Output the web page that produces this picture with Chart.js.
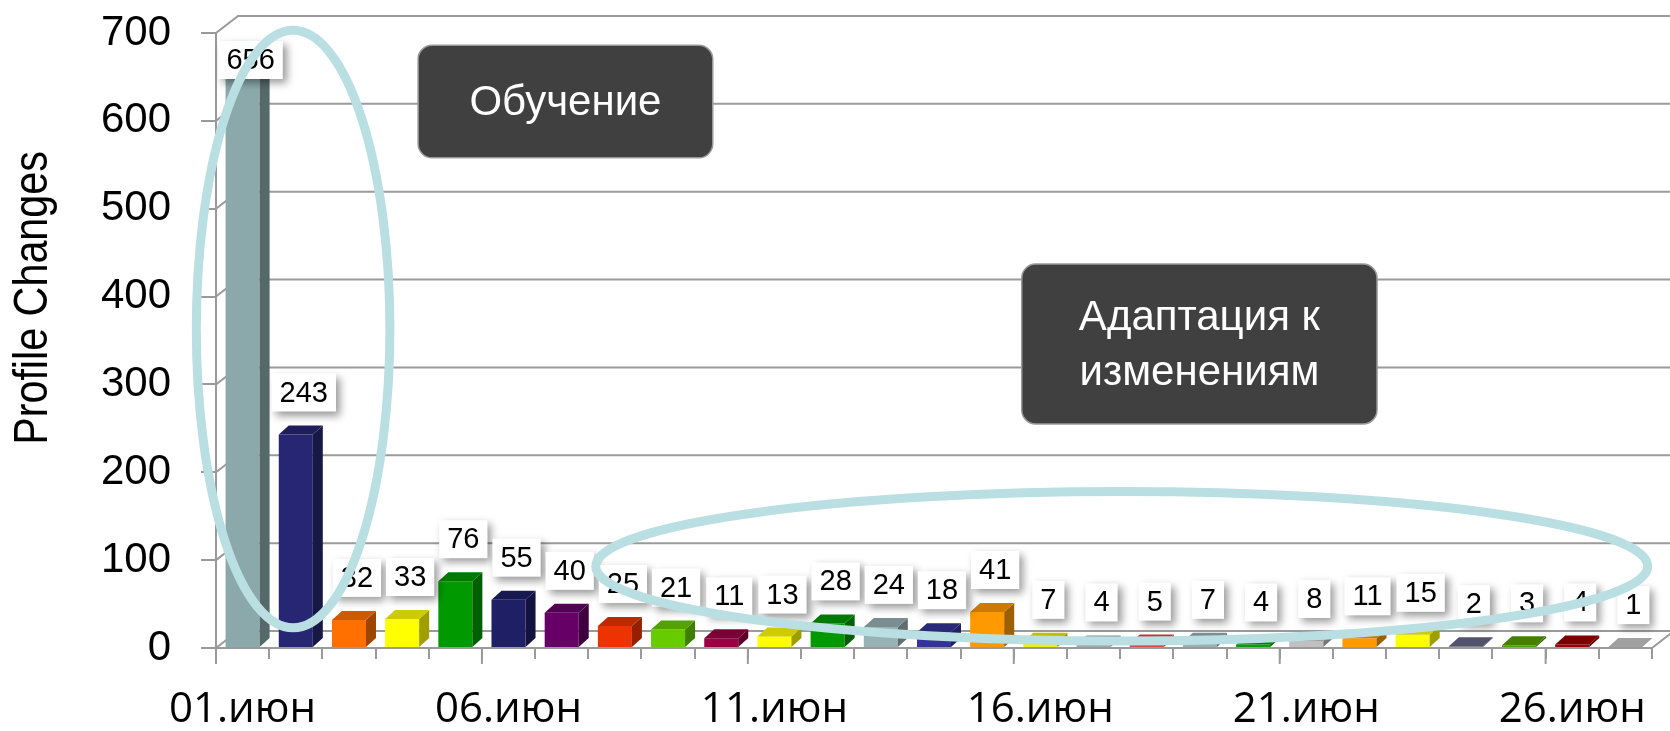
<!DOCTYPE html>
<html>
<head>
<meta charset="utf-8">
<script src="https://cdn.jsdelivr.net/npm/chart.js@4"></script>
<style>
  html, body { margin: 0; padding: 0; background: #fff; }
</style>
</head>
<body>
<canvas id="chart" width="1670" height="731"></canvas>
<script>
const days = ['01.июн', '02.июн', '03.июн', '04.июн', '05.июн', '06.июн', '07.июн', '08.июн', '09.июн',
  '10.июн', '11.июн', '12.июн', '13.июн', '14.июн', '15.июн', '16.июн', '17.июн', '18.июн',
  '19.июн', '20.июн', '21.июн', '22.июн', '23.июн', '24.июн', '25.июн', '26.июн', '27.июн'];
const changes = [656, 243, 32, 33, 76, 55, 40, 25, 21, 11, 13, 28, 24, 18, 41, 7, 4, 5, 7, 4, 8, 11, 15, 2, 3, 4, 1];
const barColors = ['#8BA9AB', '#262673', '#FF7000', '#FFFF00', '#009900', '#1F1F66', '#660066', '#EE3300', '#66CC00',
  '#990044', '#FFFF00', '#009900', '#99B2B6', '#333399', '#FF9900', '#F0F000', '#A0ABAB', '#E04848',
  '#9AB0B4', '#00A000', '#C0C0C0', '#FF9900', '#FFFF00', '#666688', '#55A000', '#990000', '#C8C8C8'];
const yTicks = [0, 100, 200, 300, 400, 500, 600, 700];
const axisTitle = 'Profile Changes';
const noteLearning = ['Обучение'];
const noteAdapt = ['Адаптация к', 'изменениям'];

const GRID = '#9a9a9a';
const DX = 22, DY = 17;    // back wall offset
const BDX = 10, BDY = 9;   // bar depth

function shade(hex, k) {
  const n = parseInt(hex.slice(1), 16);
  const r = Math.round(((n >> 16) & 255) * k);
  const g = Math.round(((n >> 8) & 255) * k);
  const b = Math.round((n & 255) * k);
  return 'rgb(' + r + ',' + g + ',' + b + ')';
}

// x in category units from the left edge of the plot
function catX(chart, f) {
  const a = chart.chartArea;
  return a.left + f * a.width / days.length;
}

const wall = {
  id: 'wall',
  beforeDatasetsDraw(chart) {
    const { ctx, chartArea: a, scales: { y } } = chart;
    ctx.save();
    ctx.strokeStyle = GRID;
    ctx.lineWidth = 2;
    yTicks.forEach(v => {
      const py = y.getPixelForValue(v);
      ctx.beginPath();
      ctx.moveTo(a.left, py);
      ctx.lineTo(a.left + DX, py - DY);
      ctx.lineTo(a.right + DX, py - DY);
      ctx.stroke();
    });
    const p0 = y.getPixelForValue(0);
    ctx.beginPath();
    ctx.moveTo(a.right, p0);
    ctx.lineTo(a.right + DX, p0 - DY);
    ctx.stroke();
    // longer ticks every fifth day
    for (let k = 0; k <= days.length; k += 5) {
      const px = catX(chart, k);
      ctx.beginPath();
      ctx.moveTo(px, a.bottom);
      ctx.lineTo(px, a.bottom + 16);
      ctx.stroke();
    }
    ctx.restore();
  }
};

const bars3d = {
  id: 'bars3d',
  afterDatasetsDraw(chart) {
    const ctx = chart.ctx;
    ctx.save();
    chart.getDatasetMeta(0).data.forEach((bar, i) => {
      const { x, y, base, width } = bar.getProps(['x', 'y', 'base', 'width'], true);
      const l = x - width / 2, r = x + width / 2;
      const c = barColors[i];
      ctx.fillStyle = shade(c, 0.62);
      ctx.beginPath();
      ctx.moveTo(r, y); ctx.lineTo(r + BDX, y - BDY); ctx.lineTo(r + BDX, base - BDY); ctx.lineTo(r, base);
      ctx.closePath(); ctx.fill();
      ctx.fillStyle = shade(c, 0.8);
      ctx.beginPath();
      ctx.moveTo(l, y); ctx.lineTo(l + BDX, y - BDY); ctx.lineTo(r + BDX, y - BDY); ctx.lineTo(r, y);
      ctx.closePath(); ctx.fill();
    });
    ctx.restore();

    // value boxes
    const a = chart.chartArea;
    ctx.save();
    ctx.font = '29px "Liberation Sans", Arial, sans-serif';
    ctx.textAlign = 'center';
    ctx.textBaseline = 'middle';
    chart.getDatasetMeta(0).data.forEach((bar, i) => {
      const txt = String(changes[i]);
      const w = ctx.measureText(txt).width + 16, h = 38;
      const cx = bar.x + 8;
      const cy = Math.max(bar.y - 42, a.top + 8 + h / 2);
      ctx.shadowColor = 'rgba(0,0,0,0.4)';
      ctx.shadowBlur = 8;
      ctx.shadowOffsetX = 4;
      ctx.shadowOffsetY = 4;
      ctx.fillStyle = '#fff';
      ctx.fillRect(cx - w / 2, cy - h / 2, w, h);
      ctx.shadowColor = 'transparent';
      ctx.fillStyle = '#000';
      ctx.fillText(txt, cx, cy + 1);
    });
    ctx.restore();
  }
};

function noteBox(chart, f0, f1, v0, v1, lines) {
  const { ctx, scales: { y } } = chart;
  const x0 = catX(chart, f0), x1 = catX(chart, f1);
  const y0 = y.getPixelForValue(v0), y1 = y.getPixelForValue(v1);
  ctx.beginPath();
  ctx.roundRect(x0, y0, x1 - x0, y1 - y0, 14);
  ctx.fillStyle = '#404040';
  ctx.fill();
  ctx.strokeStyle = '#999';
  ctx.lineWidth = 1.5;
  ctx.stroke();
  ctx.fillStyle = '#fff';
  ctx.font = '42px "Liberation Sans", Arial, sans-serif';
  ctx.textAlign = 'center';
  ctx.textBaseline = 'middle';
  const cx = (x0 + x1) / 2, cy = (y0 + y1) / 2, lh = 55;
  lines.forEach((t, k) => ctx.fillText(t, cx, cy + (k - (lines.length - 1) / 2) * lh + 2));
}

function ring(chart, f, v, rf, rv) {
  const { ctx, scales: { y } } = chart;
  const cx = catX(chart, f), cy = y.getPixelForValue(v);
  const rx = rf * chart.chartArea.width / days.length;
  const ry = y.getPixelForValue(0) - y.getPixelForValue(rv);
  ctx.beginPath();
  ctx.ellipse(cx, cy, rx, ry, 0, 0, Math.PI * 2);
  ctx.strokeStyle = '#BADFE3';
  ctx.lineWidth = 9;
  ctx.stroke();
}

const notes = {
  id: 'notes',
  afterDraw(chart) {
    const ctx = chart.ctx;
    ctx.save();
    noteBox(chart, 3.8, 9.34, 686, 558, noteLearning);
    noteBox(chart, 15.15, 21.83, 437, 255, noteAdapt);
    ring(chart, 1.45, 363, 1.82, 340);
    ring(chart, 17.03, 93, 9.89, 85);

    // axis title, narrow look
    ctx.translate(47, 298);
    ctx.rotate(-Math.PI / 2);
    ctx.scale(0.86, 1);
    ctx.fillStyle = '#000';
    ctx.textAlign = 'center';
    ctx.textBaseline = 'alphabetic';
    ctx.font = '48px "Liberation Sans", Arial, sans-serif';
    ctx.fillText(axisTitle, 0, 0);
    ctx.restore();
  }
};

new Chart(document.getElementById('chart'), {
  type: 'bar',
  data: {
    labels: days,
    datasets: [{
      data: changes,
      backgroundColor: barColors,
      borderWidth: 0,
      barPercentage: 0.64,
      categoryPercentage: 1
    }]
  },
  options: {
    responsive: false,
    animation: false,
    devicePixelRatio: 1,
    layout: { padding: { top: 33, right: 18, left: 0, bottom: 0 } },
    plugins: {
      legend: { display: false },
      tooltip: { enabled: false }
    },
    scales: {
      x: {
        offset: true,
        grid: { offset: true, drawOnChartArea: false, tickLength: 11, color: GRID, lineWidth: 2 },
        border: { color: GRID, width: 2 },
        ticks: {
          autoSkip: false,
          maxRotation: 0,
          padding: 26,
          color: '#000',
          font: { family: "'Open Sans'", size: 42 },
          callback: (v, i) => (i % 5 === 0 ? days[i] : '')
        },
        afterFit: s => { s.height = 83; }
      },
      y: {
        min: 0,
        max: 700,
        afterBuildTicks: s => { s.ticks = yTicks.map(v => ({ value: v })); },
        ticks: { padding: 30, color: '#000', font: { family: "'Liberation Sans'", size: 42 } },
        grid: { drawOnChartArea: false, tickLength: 15, color: GRID, lineWidth: 2 },
        border: { color: GRID, width: 2 },
        afterFit: s => { s.width = 216; s.paddingTop = 0; s.paddingBottom = 0; }
      }
    }
  },
  plugins: [wall, bars3d, notes]
});
</script>
</body>
</html>
